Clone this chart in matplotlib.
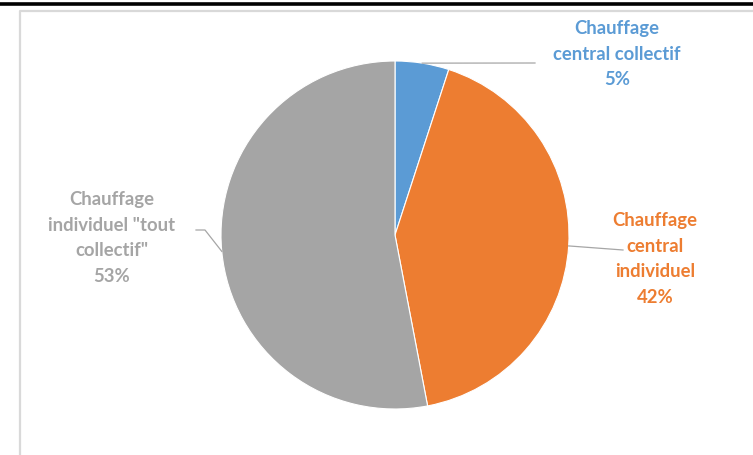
import numpy as np
import matplotlib
matplotlib.use("Agg")
import matplotlib.pyplot as plt

categories = ["Chauffage\ncentral collectif", "Chauffage\ncentral\nindividuel", "Chauffage\nindividuel \"tout\ncollectif\""]
values = [5, 42, 53]
colors = ["#5B9BD5", "#ED7D31", "#A5A5A5"]

W, H = 753, 456
fig = plt.figure(figsize=(W / 100, H / 100), dpi=100)
ax = fig.add_axes([0, 0, 1, 1])

# frame decorations
ax.plot([0, W], [H - 4.5, H - 4.5], color="black", lw=2.6, solid_capstyle="butt")
ax.plot([20, 20, W + 5], [-5, H - 11.5, H - 11.5], color="#D9D9D9", lw=1.6)

cx, cy, r = 395, H - 236, 174
wedges, _ = ax.pie(values, colors=colors, startangle=90, counterclock=False,
                   center=(cx, cy), radius=r, frame=True,
                   wedgeprops=dict(edgecolor="white", linewidth=0.8))
ax.set_xlim(0, W)
ax.set_ylim(0, H)
ax.set_aspect("equal")
ax.axis("off")

label_pos = [(617, 54), (655, 259), (112, 238)]
line_end = [[(535, 64)], [(623, 251)], [(205, 231), (196, 231)]]

for w, lab, v, c, (tx, ty), pts in zip(wedges, categories, values, colors, label_pos, line_end):
    ang = np.deg2rad((w.theta1 + w.theta2) / 2)
    px, py = cx + r * np.cos(ang), cy + r * np.sin(ang)
    xs = [px] + [p[0] for p in pts]
    ys = [py] + [H - p[1] for p in pts]
    ax.plot(xs, ys, color="#A6A6A6", lw=0.9)
    ax.text(tx, H - ty, f"{lab}\n{v}%", color=c, ha="center", va="center",
            fontsize=13.3, fontweight="bold", family="Lato", linespacing=1.6)

fig.savefig("out.png", dpi=100)
